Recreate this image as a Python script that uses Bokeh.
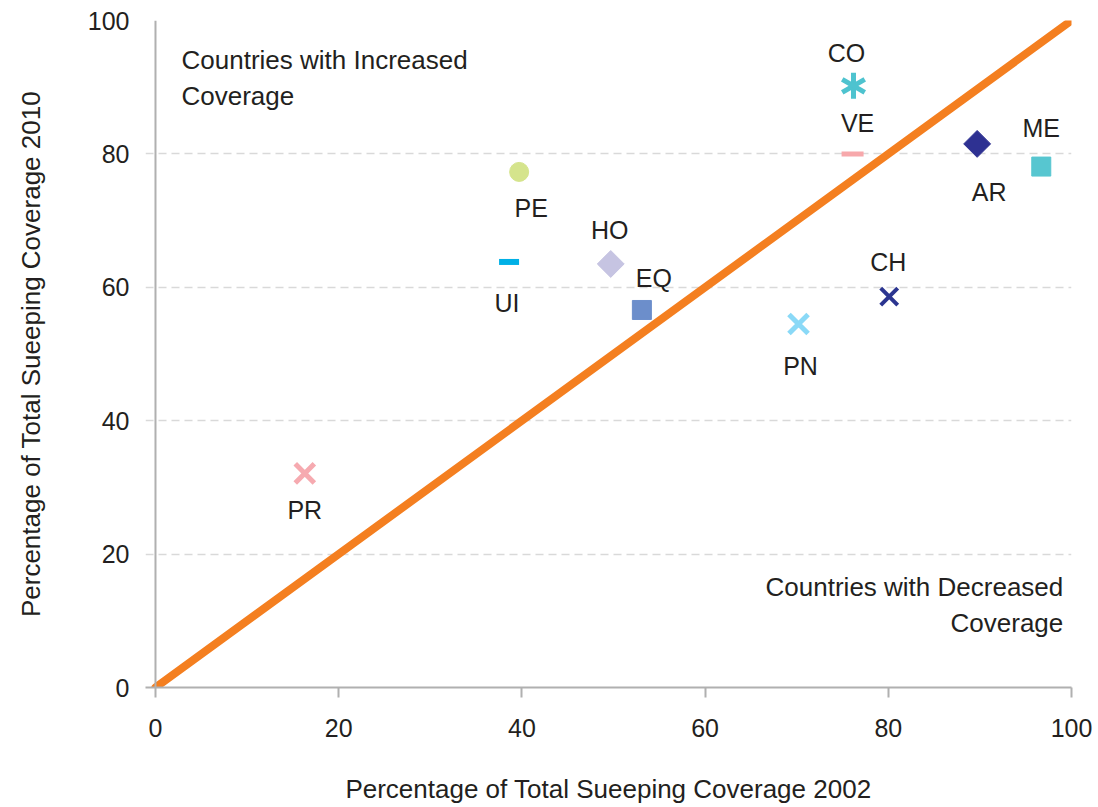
import math
from bokeh.plotting import figure
from bokeh.models import ColumnDataSource, FixedTicker, Span, Label
from bokeh.core.properties import value
from bokeh.embed import file_html
from bokeh.resources import INLINE

# ---- data ----
countries = ["CO", "VE", "AR", "ME", "PE", "UI", "HO", "EQ", "PN", "CH", "PR"]
coverage_2002 = [76.2, 76.1, 89.7, 96.7, 39.7, 38.6, 49.7, 53.1, 70.2, 80.1, 16.3]
coverage_2010 = [90.2, 80.0, 81.5, 78.1, 77.3, 63.8, 63.5, 56.6, 54.5, 58.6, 32.1]
diag_x = [0, 100]
diag_y = [0, 100]
ticks = [0, 20, 40, 60, 80, 100]

# ---- styles (per country) ----
markers = ["asterisk6", "dash", "diamond", "square", "circle", "dash", "diamond", "square", "x", "x", "x"]
colors = ["#4ec3cf", "#f7a8ab", "#2e3192", "#57c6d0", "#d5e48c", "#00b0e6",
          "#c6c4e2", "#6c8ecb", "#8ad9f7", "#2b3590", "#f6aab0"]
sizes = [26, 22, 19, 19, 19, 20, 19, 19, 27, 24, 27]
lwidths = [5, 5, 1, 1, 1, 6, 1, 1, 5, 4, 5]
label_dx = [-7, 5, 12, 0, 12, -2, -1, 12, 2, -1, 0]
label_dy = [-33, -31, 48, -39, 36, 41, -34, -32, 42, -35, 37]

FONT = "Liberation Sans"
TXT = "#231f20"
AXIS = "#b0b0b0"
W, H = 1098, 807

p = figure(width=W, height=H, output_backend="svg", toolbar_location=None,
           x_range=(-1.09, 100), y_range=(0, 100),
           min_border_left=145, min_border_right=27, min_border_top=20, min_border_bottom=120)
p.outline_line_color = None
p.background_fill_color = "white"

# grid
p.xgrid.visible = False
p.ygrid.ticker = FixedTicker(ticks=ticks)
p.ygrid.grid_line_color = "#d9d9d9"
p.ygrid.grid_line_width = 1.5
p.ygrid.grid_line_dash = "8 5"

# axes
for ax in (p.xaxis[0], p.yaxis[0]):
    ax.ticker = FixedTicker(ticks=ticks)
    ax.major_label_text_font = FONT
    ax.major_label_text_font_size = "25px"
    ax.major_label_text_color = TXT
    ax.axis_label_text_font = FONT
    ax.axis_label_text_font_size = "26px"
    ax.axis_label_text_font_style = "normal"
    ax.axis_label_text_color = TXT
    ax.minor_tick_line_color = None

p.xaxis.axis_line_color = AXIS
p.xaxis.axis_line_width = 2
p.xaxis.major_tick_line_color = AXIS
p.xaxis.major_tick_line_width = 2
p.xaxis.major_tick_out = 10
p.xaxis.major_tick_in = 0
p.xaxis.major_label_standoff = 21
p.xaxis.axis_label = "Percentage of Total Sueeping Coverage 2002"
p.xaxis.axis_label_standoff = 34

p.yaxis.axis_line_color = None
p.yaxis.major_tick_line_color = None
p.yaxis.major_tick_out = 0
p.yaxis.major_tick_in = 0
p.yaxis.major_label_standoff = 16
p.yaxis.axis_label = "Percentage of Total Sueeping Coverage 2010"
p.yaxis.axis_label_standoff = 39

p.add_layout(Span(location=0, dimension="height", line_color=AXIS, line_width=2))

# diagonal
p.line(diag_x, diag_y, line_color="#f47f20", line_width=8, line_cap="round")

# points
for i, c in enumerate(countries):
    x, y = [coverage_2002[i]], [coverage_2010[i]]
    m = markers[i]
    if m == "asterisk6":
        for ang in (90, 30, -30):
            p.scatter(x, y, marker="dash", size=sizes[i], angle=math.radians(ang),
                      line_color=colors[i], line_width=lwidths[i])
    elif m == "diamond":
        p.scatter(x, y, marker="square", size=sizes[i], angle=math.pi / 4,
                  fill_color=colors[i], line_color=colors[i], line_width=lwidths[i])
    elif m in ("x", "dash"):
        p.scatter(x, y, marker=m, size=sizes[i], line_color=colors[i], line_width=lwidths[i])
    else:
        p.scatter(x, y, marker=m, size=sizes[i], fill_color=colors[i],
                  line_color=colors[i], line_width=lwidths[i])

src = ColumnDataSource(dict(x=coverage_2002, y=coverage_2010, t=countries, dx=label_dx, dy=label_dy))
p.text(x="x", y="y", text="t", x_offset="dx", y_offset="dy", source=src,
       text_font=value(FONT), text_font_size="25px", text_color=TXT,
       text_align="center", text_baseline="middle")

# annotations
for txt, yy in (("Countries with Increased", 94.1), ("Coverage", 88.7)):
    p.add_layout(Label(x=2.84, y=yy, text=txt, text_font=FONT, text_font_size="26px",
                       text_color=TXT, text_align="left", text_baseline="middle"))
for txt, yy in (("Countries with Decreased", 15.1), ("Coverage", 9.6)):
    p.add_layout(Label(x=99.1, y=yy, text=txt, text_font=FONT, text_font_size="26px",
                       text_color=TXT, text_align="right", text_baseline="middle"))

open("out.html", "w").write(file_html(p, INLINE))
